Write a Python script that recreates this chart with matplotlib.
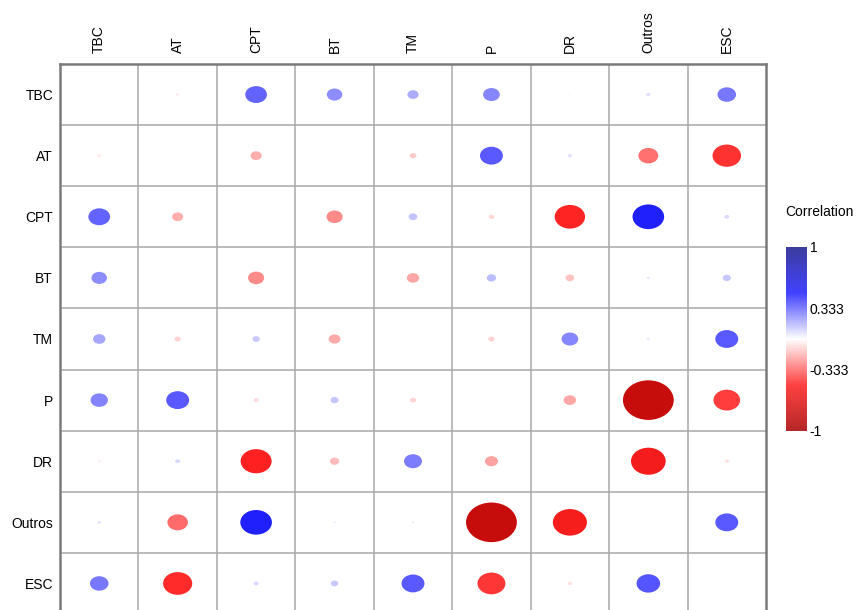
import numpy as np
import matplotlib.pyplot as plt
from matplotlib.patches import Ellipse
from matplotlib.colors import LinearSegmentedColormap, Normalize
import matplotlib.cm as cm

plt.rcParams['font.family'] = ['Liberation Sans', 'DejaVu Sans']

labels = ["TBC", "AT", "CPT", "BT", "TM", "P", "DR", "Outros", "ESC"]

# correlation rows (row label -> values per column), diagonal empty
r_tbc = [np.nan, -0.05, 0.35, 0.25, 0.18, 0.27, -0.03, 0.07, 0.30]
r_at = [-0.06, np.nan, -0.18, 0.0, -0.11, 0.37, 0.07, -0.32, -0.46]
r_cpt = [0.35, -0.18, np.nan, -0.26, 0.14, -0.09, -0.49, 0.51, 0.08]
r_bt = [0.25, 0.0, -0.26, np.nan, -0.20, 0.15, -0.14, 0.05, 0.13]
r_tm = [0.20, -0.10, 0.12, -0.19, np.nan, -0.10, 0.27, 0.05, 0.37]
r_p = [0.28, 0.37, -0.08, 0.13, -0.10, np.nan, -0.20, -0.82, -0.43]
r_dr = [-0.04, 0.08, -0.50, -0.15, 0.29, -0.21, np.nan, -0.56, -0.07]
r_outros = [0.06, -0.33, 0.51, 0.04, 0.04, -0.82, -0.55, np.nan, 0.37]
r_esc = [0.30, -0.47, 0.08, 0.12, 0.37, -0.45, -0.07, 0.38, np.nan]

corr = np.array([r_tbc, r_at, r_cpt, r_bt, r_tm, r_p, r_dr, r_outros, r_esc])

cmap = LinearSegmentedColormap.from_list(
    "corr", [(0.0, "#a80000"), (0.25, "#ff2020"), (0.5, "#ffffff"),
             (0.75, "#2020ff"), (1.0, "#1a1a8c")])
norm = Normalize(-1, 1)

fig = plt.figure(figsize=(8.56, 6.10), dpi=100)
ax = fig.add_axes([60 / 856, -4 / 610, 706 / 856, 550 / 610])

n = len(labels)
for i in range(n):
    for j in range(n):
        v = corr[i, j]
        if np.isnan(v) or v == 0:
            continue
        d = 0.79 * abs(v)
        ax.add_patch(Ellipse((j + 0.5, i + 0.5), d, d,
                             facecolor=cmap(norm(v)), edgecolor="none"))

ax.set_xlim(0, n)
ax.set_ylim(n, 0)
for k in range(1, n):
    ax.axvline(k, color="#a8a8a8", lw=1.1, zorder=0)
    ax.axhline(k, color="#a8a8a8", lw=1.1, zorder=0)
for s in ax.spines.values():
    s.set_color("#7a7a7a")
    s.set_linewidth(1.8)

ax.set_xticks(np.arange(n) + 0.5)
ax.set_xticklabels(labels, rotation=90, fontsize=10)
ax.set_yticks(np.arange(n) + 0.5)
ax.set_yticklabels(labels, fontsize=10)
ax.xaxis.tick_top()
ax.tick_params(length=0, pad=8, axis="x")
ax.tick_params(length=0, pad=5, axis="y")

cax = fig.add_axes([786 / 856, 179 / 610, 21 / 856, 184 / 610])
sm = cm.ScalarMappable(norm=norm, cmap=cmap)
cb = fig.colorbar(sm, cax=cax, ticks=[-1, -0.333, 0.333, 1])
cb.solids.set_alpha(0.85)
cb.ax.set_yticklabels(["-1", "-0.333", "0.333", "1"], fontsize=10)
cb.ax.tick_params(length=0, pad=2)
cb.outline.set_visible(False)
fig.text(785 / 856, 1 - 212 / 610, "Correlation", fontsize=10, va="center")

fig.savefig("out.png", dpi=100)
